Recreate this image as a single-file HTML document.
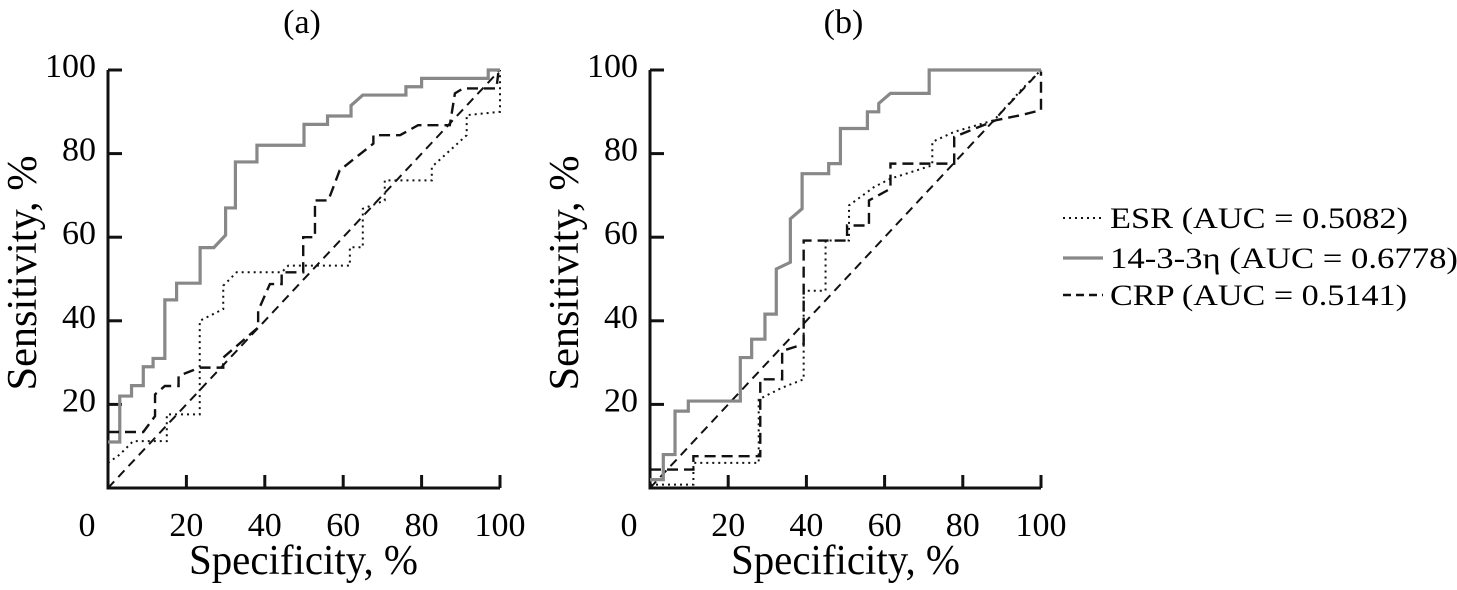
<!DOCTYPE html>
<html><head><meta charset="utf-8">
<style>
html,body{margin:0;padding:0;background:#fff;}
svg{display:block;font-family:"Liberation Serif",serif;}
</style></head>
<body>
<svg id="chart" width="1457" height="590" viewBox="0 0 1457 590" xmlns="http://www.w3.org/2000/svg"></svg>
<script>
const ticks = [0, 20, 40, 60, 80, 100];
const tickLabels = ["0", "20", "40", "60", "80", "100"];
const seriesNames = ["ESR (AUC = 0.5082)", "14-3-3η (AUC = 0.6778)", "CRP (AUC = 0.5141)"];
// Panel a
const aEsrX = [0,3,6.4,15,15,17.5,23.4,23.4,29.4,29.4,32.8,44.3,46,61.7,61.7,65,65,70.6,70.6,82.6,82.6,91.5,91.5,100,100];
const aEsrY = [6,8,11.2,11.2,17.6,17.6,17.6,40,42.8,48.4,51.6,51.6,53.2,53.2,57.6,57.6,66.8,68.8,73.6,73.6,76.8,84.4,89.2,90,100];
const aEtaX = [0,3,3,6,6,9,9,11.5,11.5,14.5,14.5,17.5,17.5,23.5,23.5,27,30,30,32.5,32.5,38,38,50,50,56,56,62,62,65,76,76,80,80,97,97,100];
const aEtaY = [11,11,22,22,24.5,24.5,29,29,31,31,45,45,49,49,57.5,57.5,60.5,67,67,78,78,82,82,87,87,89,89,91.5,94,94,96,96,98,98,100,100];
const aCrpX = [0,9,12,12,14.5,18,18,23.4,29.4,29.4,38.3,38.3,41.3,44.3,44.3,49.8,49.8,52.8,52.8,56.2,59.1,67.7,67.7,74.5,79.1,87.2,88.5,90.6,99.1,99.6];
const aCrpY = [13.4,13.4,17.2,22.4,24.4,24.4,26.8,28.8,28.8,31.2,38.4,42.4,48.8,48.8,51.6,51.6,60,60,68.8,68.8,76,82.4,84.4,84.4,86.8,86.8,94.4,95.6,95.6,99.6];
// Panel b
const bEsrX = [0,11.1,11.1,27.8,27.8,33.8,39.3,39.3,44.9,44.9,50.9,50.9,57.3,61.5,72.2,72.2,77.8,88,94.9,100];
const bEsrY = [0.8,0.8,6,6,21.2,24,26,47.2,47.2,59.2,59.2,67.6,72,74,77.2,82.8,85.2,88,95.2,100];
const bEtaX = [0,3.4,3.4,6.4,6.4,9.8,9.8,23.1,23.1,26,26,29.4,29.4,32.3,32.3,35.9,35.9,38.9,38.9,45.7,45.7,48.7,48.7,55.6,55.6,58.5,58.5,61.5,71.4,71.4,100];
const bEtaY = [2,2,8,8,18.4,18.4,20.8,20.8,31.2,31.2,35.6,35.6,41.6,41.6,52.4,54,64.4,66.8,75.2,75.2,77.6,77.6,86,86,90,90,92,94.4,94.4,100,100];
const bCrpX = [0,11.1,11.1,28.2,28.2,33.8,33.8,39.3,39.3,50.4,50.4,56,56,61.5,61.5,77.8,77.8,88.5,94.9,100,100];
const bCrpY = [4.4,4.4,7.6,7.6,26,26,32.8,34.4,59.2,59.2,62.8,62.8,68.8,71.6,77.6,77.6,84,88,89.2,90.4,99.6];

const NS = "http://www.w3.org/2000/svg";
const svg = document.getElementById("chart");
function mk(tag, attrs, parent) {
  const e = document.createElementNS(NS, tag);
  for (const k in attrs) e.setAttribute(k, attrs[k]);
  (parent || svg).appendChild(e);
  return e;
}
const styles = [
  {stroke:"#111", w:2, dash:"2,4"},
  {stroke:"#888", w:3.2, dash:""},
  {stroke:"#111", w:2.4, dash:"11,6"}
];
const panels = [
  {x0:108, x1:500, title:"(a)", key:"a", data:[[aEsrX,aEsrY],[aEtaX,aEtaY],[aCrpX,aCrpY]]},
  {x0:650, x1:1041, title:"(b)", key:"b", data:[[bEsrX,bEsrY],[bEtaX,bEtaY],[bCrpX,bCrpY]]}
];
const y0 = 488, y1 = 70;
panels.forEach(p => {
  const g = mk("g", {});
  
  
  const sx = v => p.x0 + (p.x1 - p.x0) * v / 100;
  const sy = v => y0 - (y0 - y1) * v / 100;
  const t = mk("text", {x:(p.x0+p.x1)/2 - 2, y:33, "text-anchor":"middle", "font-size":34}, g);
  t.textContent = p.title;
  
  
  const ax = mk("path", {d:`M${sx(0)},${sy(100)} L${sx(0)},${sy(0)} L${sx(100)},${sy(0)}`, fill:"none", stroke:"#111", "stroke-width":3}, g);
  
  
  ticks.forEach((v, i) => {
    if (v > 0) {
      const ty = mk("line", {x1:sx(0), x2:sx(0)+14, y1:sy(v), y2:sy(v), stroke:"#111", "stroke-width":3}, g);
      
      
      const tx = mk("line", {x1:sx(v), x2:sx(v), y1:sy(0), y2:sy(0)-13, stroke:"#111", "stroke-width":3}, g);
      
      
      const yl = mk("text", {x:sx(0)-12, y:sy(v)+7, "text-anchor":"end", "font-size":34}, g);
      yl.textContent = tickLabels[i];
      
      
    }
    const lx = v === 0 ? p.x0 - 21 : sx(v);
    const xl = mk("text", {x:lx, y:536, "text-anchor":"middle", "font-size":34}, g);
    xl.textContent = tickLabels[i];
    
    
  });
  const xt = mk("text", {x:p.x0+81, y:574, "font-size":42, textLength:229, lengthAdjust:"spacingAndGlyphs"}, g);
  xt.textContent = "Specificity, %";
  
  
  const cy = 273, cx = p.x0 - 72;
  const yt = mk("text", {x:cx, y:cy, "text-anchor":"middle", "font-size":42, textLength:235, lengthAdjust:"spacingAndGlyphs", transform:`rotate(-90 ${cx} ${cy})`}, g);
  yt.textContent = "Sensitivity, %";
  
  
  const dg = mk("line", {x1:sx(0), y1:sy(0), x2:sx(100), y2:sy(100), stroke:"#111", "stroke-width":2, "stroke-dasharray":"9,6"}, g);
  
  
  p.data.forEach((d, k) => {
    const pts = d[0].map((x, i) => `${sx(x)},${sy(d[1][i])}`).join(" ");
    const st = styles[k];
    const pl = mk("polyline", {points:pts, fill:"none", stroke:st.stroke, "stroke-width":st.w, "stroke-dasharray":st.dash}, g);
    
    
  });
});
const lg = mk("g", {});


const legY = [218, 258, 295];
const legBase = [228, 268, 305];
const legW = [298, 348, 297];
seriesNames.forEach((n, k) => {
  const st = styles[k];
  const ln = mk("line", {x1:1063, x2:1103, y1:legY[k], y2:legY[k], stroke:st.stroke, "stroke-width":st.w, "stroke-dasharray":k===2?"8,5":st.dash}, lg);
  
  
  const tx = mk("text", {x:1110, y:legBase[k], "font-size":30, textLength:legW[k], lengthAdjust:"spacingAndGlyphs"}, lg);
  tx.textContent = n;
  
  
});
</script>
</body></html>
